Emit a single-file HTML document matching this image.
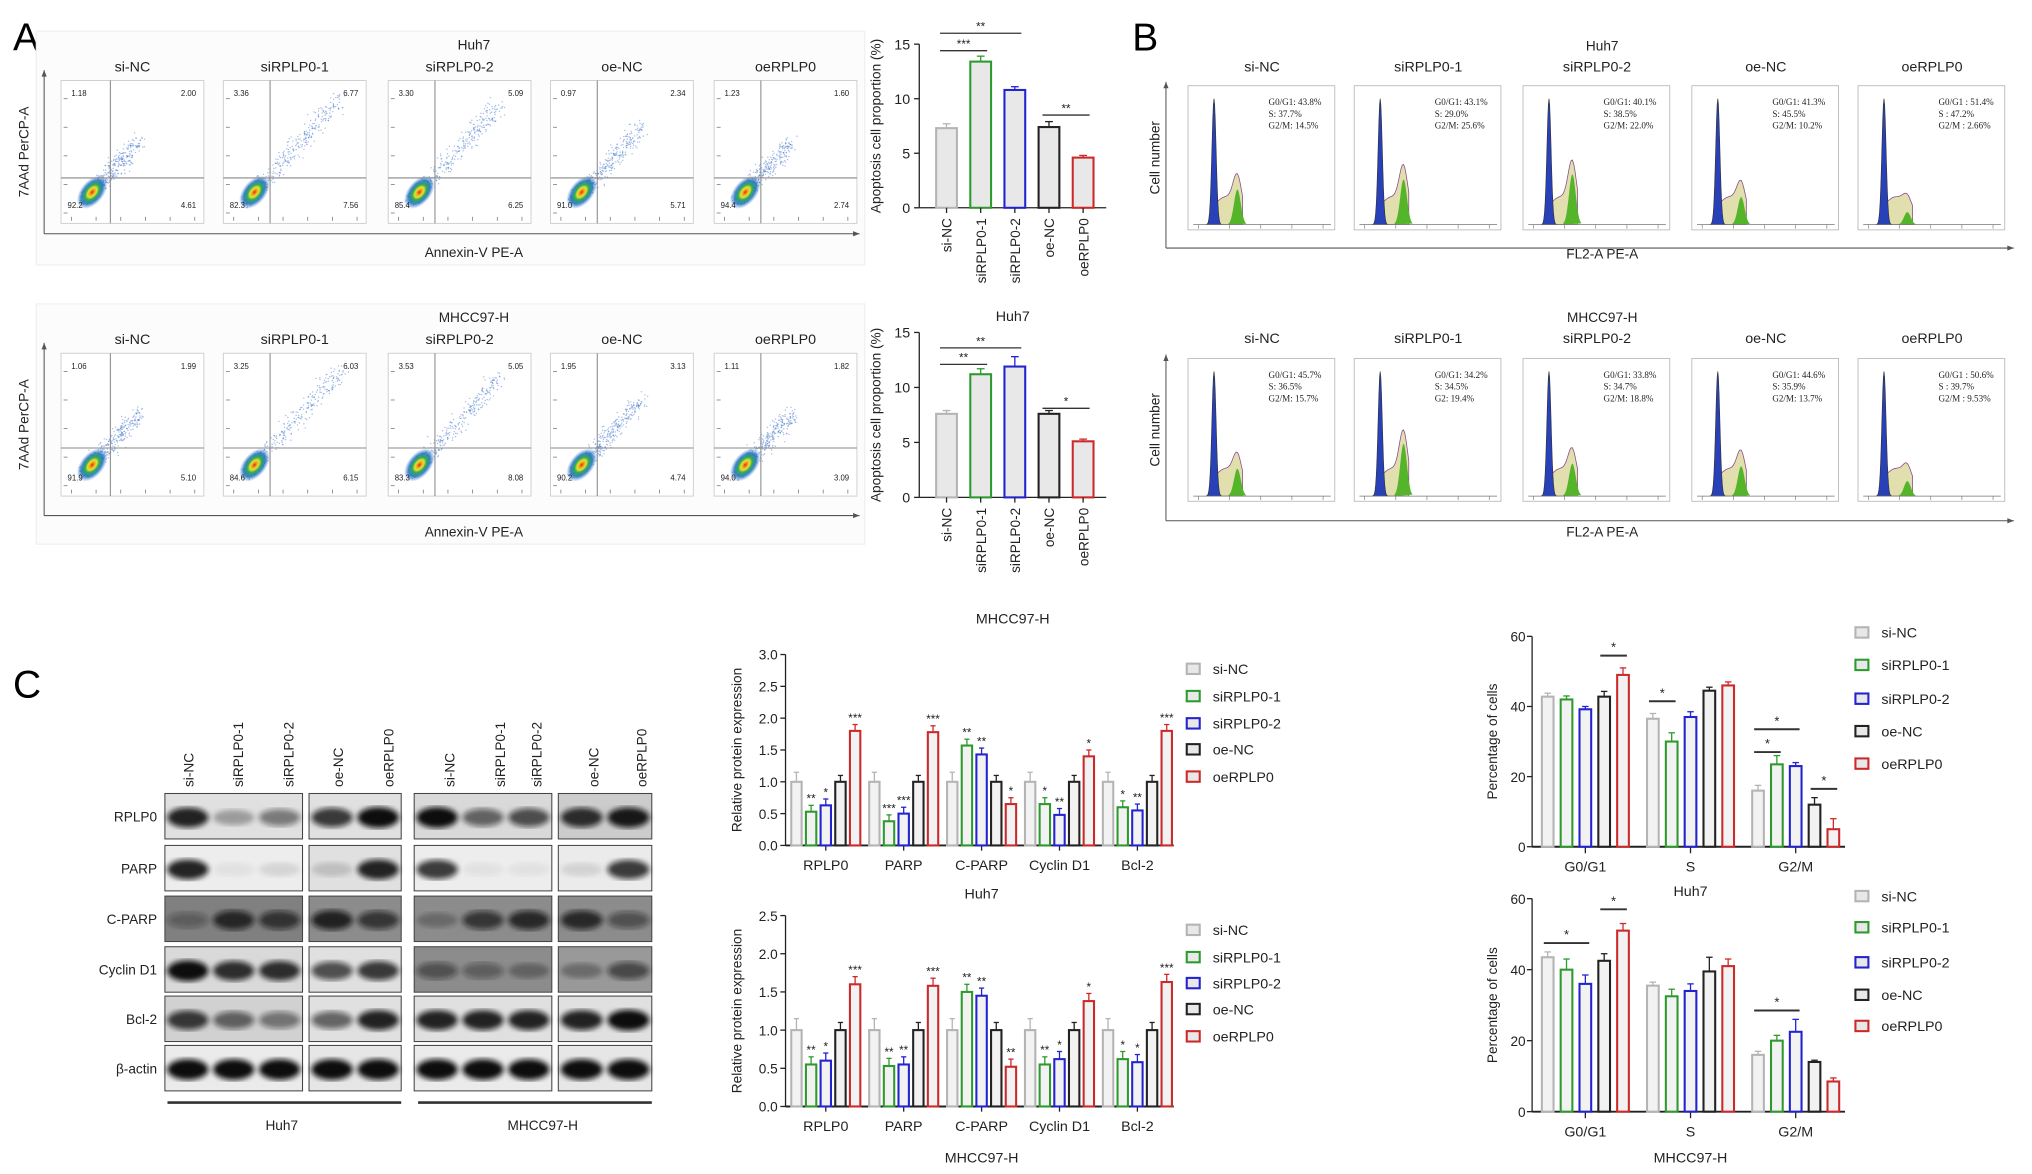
<!DOCTYPE html>
<html><head><meta charset="utf-8">
<style>
html,body{margin:0;padding:0;background:#fff;}
svg{display:block;font-family:"Liberation Sans",Arial,sans-serif;}
</style></head>
<body>
<svg id="fig" width="2032" height="1174" viewBox="0 0 1565 904" preserveAspectRatio="none" xmlns="http://www.w3.org/2000/svg">
<defs>
<radialGradient id="dens" cx="50%" cy="50%" r="50%">
<stop offset="0" stop-color="#e0201a"/><stop offset="0.15" stop-color="#f0a020"/><stop offset="0.3" stop-color="#e8e030"/><stop offset="0.45" stop-color="#30b050"/><stop offset="0.7" stop-color="#2070c0" stop-opacity="0.85"/><stop offset="1" stop-color="#4080d0" stop-opacity="0"/>
</radialGradient>
<filter id="blur2"><feGaussianBlur stdDeviation="2"/></filter>
<filter id="blur1"><feGaussianBlur stdDeviation="1.2"/></filter>
</defs>
</svg>
<script>
// ---------- DATA ----------
const groupLabels = ["si-NC","siRPLP0-1","siRPLP0-2","oe-NC","oeRPLP0"];
const colors = ["#b4b4b4","#2e9a2e","#2323d0","#222222","#cc2a2a"];
// Panel A flow quadrants [UL, UR, LL, LR]
const flowHuh7 = [["1.18","2.00","92.2","4.61"],["3.36","6.77","82.3","7.56"],["3.30","5.09","85.4","6.25"],["0.97","2.34","91.0","5.71"],["1.23","1.60","94.4","2.74"]];
const flowMhcc = [["1.06","1.99","91.9","5.10"],["3.25","6.03","84.6","6.15"],["3.53","5.05","83.3","8.08"],["1.95","3.13","90.2","4.74"],["1.11","1.82","94.0","3.09"]];
// Panel A apoptosis bars
const apoHuh7 = [7.3,13.4,10.8,7.4,4.6];
const apoHuh7Err = [0.4,0.5,0.3,0.5,0.2];
const apoMhcc = [7.6,11.2,11.9,7.6,5.1];
const apoMhccErr = [0.3,0.5,0.9,0.3,0.2];
const apoTicks = [0,5,10,15];
// Panel B stats
const cycHuh7Text = [["G0/G1: 43.8%","S: 37.7%","G2/M: 14.5%"],["G0/G1: 43.1%","S: 29.0%","G2/M: 25.6%"],["G0/G1: 40.1%","S: 38.5%","G2/M: 22.0%"],["G0/G1: 41.3%","S: 45.5%","G2/M: 10.2%"],["G0/G1 : 51.4%","S : 47.2%","G2/M : 2.66%"]];
const cycMhccText = [["G0/G1: 45.7%","S: 36.5%","G2/M: 15.7%"],["G0/G1: 34.2%","S: 34.5%","G2: 19.4%"],["G0/G1: 33.8%","S: 34.7%","G2/M: 18.8%"],["G0/G1: 44.6%","S: 35.9%","G2/M: 13.7%"],["G0/G1 : 50.6%","S : 39.7%","G2/M : 9.53%"]];
const greenPeakHuh7 = [0.28,0.36,0.40,0.22,0.10];
const greenPeakMhcc = [0.22,0.42,0.26,0.24,0.12];
// Panel C protein
const protCats = ["RPLP0","PARP","C-PARP","Cyclin D1","Bcl-2"];
const protHuh7SiNC = [1,1,1,1,1];
const protHuh7Si1 = [0.53,0.38,1.57,0.65,0.60];
const protHuh7Si2 = [0.63,0.50,1.43,0.48,0.55];
const protHuh7OeNC = [1,1,1,1,1];
const protHuh7Oe = [1.80,1.78,0.65,1.40,1.80];
const protHuh7Stars = [["","**","*","","***"],["","***","***","","***"],["","**","**","","*"],["","*","**","","*"],["","*","**","","***"]];
const protMhccSiNC = [1,1,1,1,1];
const protMhccSi1 = [0.55,0.53,1.50,0.55,0.62];
const protMhccSi2 = [0.60,0.55,1.45,0.62,0.58];
const protMhccOeNC = [1,1,1,1,1];
const protMhccOe = [1.60,1.58,0.52,1.38,1.63];
const protMhccStars = [["","**","*","","***"],["","**","**","","***"],["","**","**","","**"],["","**","*","","*"],["","*","*","","***"]];
const protHuh7Ticks = [0,0.5,1.0,1.5,2.0,2.5,3.0];
const protMhccTicks = [0,0.5,1.0,1.5,2.0,2.5];
// Panel C cell cycle
const phaseCats = ["G0/G1","S","G2/M"];
const cycHuh7Vals = [[42.8,42,39.2,42.8,49],[36.5,30,37,44.5,46],[16,23.5,23,12,5]];
const cycHuh7Err = [[1,1,0.8,1.5,2],[1.5,2.5,1.5,1,1],[1.5,2.5,1,2,3]];
const cycMhccVals = [[43.5,40,36,42.5,51],[35.5,32.5,34,39.5,41],[16,20,22.5,14,8.5]];
const cycMhccErr = [[1.5,3,2.5,2,2],[1,2,2,4,2],[1,1.5,3.5,0.5,1]];
const cycTicks = [0,20,40,60];

const svg = document.getElementById('fig');
const NS = "http://www.w3.org/2000/svg";
function mk(tag, attrs, parent, name){
  const e = document.createElementNS(NS, tag);
  for (const k in attrs) e.setAttribute(k, attrs[k]);
  if (name){
    
    
  }
  (parent||svg).appendChild(e);
  return e;
}
function txt(x,y,s,size,opts,parent,name){
  opts = opts||{};
  const a = {x:x,y:y,'font-size':size,fill:opts.fill||'#222','text-anchor':opts.anchor||'middle'};
  if (opts.rot!==undefined) a.transform = `rotate(${opts.rot} ${x} ${y})`;
  if (opts.family) a['font-family']=opts.family;
  if (opts.weight) a['font-weight']=opts.weight;
  const t = mk('text', a, parent, name);
  t.textContent = s;
  return t;
}
function arrowAxes(x0,yBottom,yTop,xRight,g){
  mk('line',{x1:x0,y1:yBottom,x2:x0,y2:yTop,stroke:'#555','stroke-width':0.8},g,'y-axis-arrow');
  mk('path',{d:`M${x0-2} ${yTop+5} L${x0} ${yTop} L${x0+2} ${yTop+5}Z`,fill:'#555'},g,'y-arrow-head');
  mk('line',{x1:x0,y1:yBottom,x2:xRight,y2:yBottom,stroke:'#555','stroke-width':0.8},g,'x-axis-arrow');
  mk('path',{d:`M${xRight-5} ${yBottom-2} L${xRight} ${yBottom} L${xRight-5} ${yBottom+2}Z`,fill:'#555'},g,'x-arrow-head');
}

// panel letters
txt(10,39,"A",30,{anchor:'start',fill:'#000'},null,'panel-label-a');
txt(872,39,"B",30,{anchor:'start',fill:'#000'},null,'panel-label-b');
txt(10,537,"C",30,{anchor:'start',fill:'#000'},null,'panel-label-c');

// ---------- PANEL A flow ----------
let seed = 12345;
function rnd(){ seed = (seed*16807)%2147483647; return seed/2147483647; }
function gauss(){ return (rnd()+rnd()+rnd()-1.5)/1.5; }
const flowBoxX = [47,172,299,424,550];
function flowRow(top, bottom, gateY, titleY, labelY, axisY, axisLabelY, title, quad, rowName){
  const g = mk('g',{},null,rowName);
  mk('rect',{x:28,y:titleY-14,width:638,height:axisLabelY-titleY+20,fill:'#fcfcfc',stroke:'#f0f0f0'},g,'flow-panel-bg');
  txt(365,titleY,title,10.5,{},g,'flow-title');
  arrowAxes(34,axisY,top-8,662,g);
  txt(22,(top+bottom)/2,"7AAd PerCP-A",10.5,{rot:-90},g,'flow-y-axis-title');
  txt(365,axisLabelY,"Annexin-V PE-A",10.5,{},g,'flow-x-axis-title');
  flowBoxX.forEach((bx,i)=>{
    const pg = mk('g',{},g,'flow-plot-'+groupLabels[i]);
    txt(bx+55,labelY,groupLabels[i],11,{},pg,'flow-plot-title');
    mk('rect',{x:bx,y:top,width:110,height:bottom-top,fill:'#fff',stroke:'#ccc','stroke-width':0.7},pg,'flow-plot-frame');
    const gx = bx + (i===0?38:36);
    const spread = [0.6,1.2,1.1,0.8,0.6][i];
    const cx0 = bx+24, cy0 = bottom-24;
    for (let k=0;k<700;k++){
      const r = rnd();
      let px, py;
      if (r<0.65){ const a=gauss()*14, b=gauss()*7; px = cx0+a*0.7+b*0.7; py = cy0-a*0.7+b*0.7; }
      else { const t=rnd(); px = cx0+6+t*50*spread+gauss()*10; py = cy0-6-t*55*spread+gauss()*10; }
      if (px<bx+2||px>bx+108||py<top+2||py>bottom-2) continue;
      mk('circle',{cx:px.toFixed(1),cy:py.toFixed(1),r:0.55,fill:'#3a6fc8','fill-opacity':0.45},pg,'flow-event');
    }
    mk('ellipse',{cx:cx0,cy:cy0,rx:15,ry:9,fill:'url(#dens)',transform:`rotate(-50 ${cx0} ${cy0})`},pg,'flow-density-core');
    mk('line',{x1:gx,y1:top,x2:gx,y2:bottom,stroke:'#888','stroke-width':0.8},pg,'vertical-gate');
    mk('line',{x1:bx,y1:gateY,x2:bx+110,y2:gateY,stroke:'#888','stroke-width':0.8},pg,'horizontal-gate');
    for (let t=0;t<6;t++) mk('line',{x1:bx+8+t*19,y1:bottom-2,x2:bx+8+t*19,y2:bottom-5,stroke:'#777','stroke-width':0.6},pg,'flow-x-tick');
    for (let t=0;t<5;t++) mk('line',{x1:bx+2,y1:bottom-8-t*22,x2:bx+5,y2:bottom-8-t*22,stroke:'#777','stroke-width':0.6},pg,'flow-y-tick');
    const q = quad[i];
    txt(bx+8,top+12,q[0],6,{anchor:'start'},pg,'quadrant-ul');
    txt(bx+104,top+12,q[1],6,{anchor:'end'},pg,'quadrant-ur');
    txt(bx+5,bottom-12,q[2],6,{anchor:'start'},pg,'quadrant-ll');
    txt(bx+104,bottom-12,q[3],6,{anchor:'end'},pg,'quadrant-lr');
  });
}
flowRow(62,172,137,38,55,180,198,"Huh7",flowHuh7,'flow-huh7');
flowRow(272,382,345,248,265,397,413,"MHCC97-H",flowMhcc,'flow-mhcc97h');

// ---------- PANEL A bars ----------
function apoChart(y0,yTop,vals,errs,sigs,caption,capY,name){
  const g = mk('g',{},null,name);
  const ax = 708, maxV = 15;
  const yS = v => y0 - v/maxV*(y0-yTop);
  const xS = i => 729 + i*26.3;
  mk('line',{x1:ax,y1:y0,x2:ax,y2:yTop,stroke:'#222','stroke-width':1},g,'y-axis');
  mk('line',{x1:ax,y1:y0,x2:852,y2:y0,stroke:'#222','stroke-width':1},g,'x-axis');
  apoTicks.forEach(t=>{
    mk('line',{x1:ax-4,y1:yS(t),x2:ax,y2:yS(t),stroke:'#222'},g,'y-tick');
    txt(ax-7,yS(t)+4,String(t),11,{anchor:'end'},g,'y-tick-label');
  });
  txt(678,(y0+yTop)/2,"Apoptosis cell proportion (%)",10.5,{rot:-90},g,'y-axis-title');
  vals.forEach((v,i)=>{
    const cx = xS(i);
    mk('rect',{x:cx-8,y:yS(v),width:16,height:y0-yS(v),fill:'#e8e8e8',stroke:colors[i],'stroke-width':1.6},g,'bar-'+groupLabels[i]);
    mk('line',{x1:cx,y1:yS(v),x2:cx,y2:yS(v+errs[i]),stroke:colors[i]},g,'error-bar');
    mk('line',{x1:cx-3,y1:yS(v+errs[i]),x2:cx+3,y2:yS(v+errs[i]),stroke:colors[i]},g,'error-cap');
    mk('line',{x1:cx,y1:y0,x2:cx,y2:y0+4,stroke:'#222'},g,'x-tick');
    txt(cx+4,y0+8,groupLabels[i],10.5,{rot:-90,anchor:'end'},g,'x-tick-label');
  });
  sigs.forEach(s=>{
    const x1 = xS(s[0])-5, x2 = xS(s[1])+5, yy = yS(s[2]);
    mk('line',{x1:x1,y1:yy,x2:x2,y2:yy,stroke:'#333','stroke-width':1},g,'significance-line');
    txt((x1+x2)/2,yy-2,s[3],9,{},g,'significance-stars');
  });
  txt(780,capY,caption,11,{},g,'x-axis-title');
}
apoChart(160,34,apoHuh7,apoHuh7Err,[[0,2,16,"**"],[0,1,14.4,"***"],[3,4,8.5,"**"]],"Huh7",247,'apoptosis-chart-huh7');
apoChart(383,256,apoMhcc,apoMhccErr,[[0,2,13.6,"**"],[0,1,12.1,"**"],[3,4,8.1,"*"]],"MHCC97-H",480,'apoptosis-chart-mhcc97h');

// ---------- PANEL B ----------
const histBoxX = [915,1043,1173,1303,1431];
function gaussF(x,m,s){ return Math.exp(-0.5*((x-m)/s)**2); }
function histRow(top,bottom,titleY,labelY,axisY,axisLabelY,title,texts,greens,name){
  const g = mk('g',{},null,name);
  txt(1234,titleY,title,10.5,{},g,'histogram-row-title');
  arrowAxes(898,axisY,top-3,1551,g);
  txt(893,(top+bottom)/2,"Cell number",10.5,{rot:-90},g,'y-axis-title');
  txt(1234,axisLabelY,"FL2-A PE-A",10.5,{},g,'x-axis-title');
  histBoxX.forEach((bx,i)=>{
    const pg = mk('g',{},g,'histogram-'+groupLabels[i]);
    txt(bx+57,labelY,groupLabels[i],11,{},pg,'histogram-title');
    mk('rect',{x:bx,y:top,width:113,height:bottom-top,fill:'#fff',stroke:'#bbb','stroke-width':0.7},pg,'histogram-frame');
    const base = bottom-4, H = bottom-top-14;
    const p1 = bx+20, p2 = bx+38, gh = greens[i];
    let dS = `M${p1} ${base}`;
    for (let x=p1;x<=p2+4;x+=1){ const y = base - H*(0.17*gaussF(x,(p1+p2)/2,9)+gh*gaussF(x,p2,3.2)*0.9+0.05); dS+=` L${x} ${y.toFixed(1)}`; }
    dS += ` L${p2+4} ${base}Z`;
    mk('path',{d:dS,fill:'#e2dfae',stroke:'#8a4b8a','stroke-width':0.6},pg,'s-phase-area');
    let dG = `M${p2-7} ${base}`;
    for (let x=p2-7;x<=p2+7;x+=0.5){ dG+=` L${x} ${(base-H*gh*gaussF(x,p2,2.6)).toFixed(1)}`; }
    dG+=' Z';
    mk('path',{d:dG,fill:'#55b52a'},pg,'g2m-peak');
    let dB = `M${p1-6} ${base}`;
    for (let x=p1-6;x<=p1+6;x+=0.5){ dB+=` L${x} ${(base-H*gaussF(x,p1,1.6)).toFixed(1)}`; }
    dB+=' Z';
    mk('path',{d:dB,fill:'#2840b8',stroke:'#333','stroke-width':0.5},pg,'g0g1-peak');
    mk('line',{x1:bx+4,y1:base,x2:bx+110,y2:base,stroke:'#777','stroke-width':0.6},pg,'histogram-baseline');
    for (let t=0;t<5;t++) mk('line',{x1:bx+8+t*24,y1:base,x2:bx+8+t*24,y2:base+3,stroke:'#777','stroke-width':0.5},pg,'histogram-x-tick');
    texts[i].forEach((s,k)=>txt(bx+62,top+15+k*9,s,7,{anchor:'start',family:'"Liberation Serif",serif'},pg,'phase-stat'));
  });
}
histRow(66,177,39,55,191,199,"Huh7",cycHuh7Text,greenPeakHuh7,'histograms-huh7');
histRow(276,386,248,264,401,413,"MHCC97-H",cycMhccText,greenPeakMhcc,'histograms-mhcc97h');

// ---------- PANEL C blots ----------
const blotRows = ["RPLP0","PARP","C-PARP","Cyclin D1","Bcl-2","β-actin"];
const blotRowY = [611,651,690,729,767,805];
const blotBoxes = [[127,233],[238,309],[319,425],[430,502]];
const laneX = [145,183,222,260,299,346,385,413,457,494];
const laneBox = [0,0,0,1,1,2,2,2,3,3];
const laneIdx = [0,1,2,0,1,0,1,2,0,1];
const bandIntensity = [
 [0.9,0.3,0.5,0.8,1, 1,0.6,0.7,0.85,0.95],
 [0.9,0.05,0.1,0.15,0.9, 0.8,0.05,0.05,0.1,0.8],
 [0.35,0.8,0.7,0.85,0.7, 0.25,0.7,0.8,0.8,0.5],
 [1,0.85,0.85,0.7,0.8, 0.5,0.4,0.3,0.3,0.6],
 [0.8,0.6,0.5,0.6,0.9, 0.9,0.9,0.9,0.9,1],
 [1,1,1,1,1, 1,1,1,1,1]];
const blotBg = [[0.88,0.88,0.85,0.8],[0.93,0.88,0.93,0.92],[0.5,0.55,0.55,0.55],[0.85,0.88,0.55,0.6],[0.82,0.88,0.88,0.88],[0.92,0.9,0.92,0.9]];
const gB = mk('g',{},null,'western-blot');
const laneNames = groupLabels.concat(groupLabels);
laneX.forEach((x,i)=>txt(x+4,606,laneNames[i],10.5,{rot:-90,anchor:'start'},gB,'lane-label'));
blotRows.forEach((r,ri)=>{
  const y = blotRowY[ri], h = 35;
  txt(121,y+h/2+4,r,10.5,{anchor:'end'},gB,'blot-row-label');
  blotBoxes.forEach((b,bi)=>{
    const v = Math.round(255*blotBg[ri][bi]);
    mk('rect',{x:b[0],y:y,width:b[1]-b[0],height:h,fill:`rgb(${v},${v},${v})`,stroke:'#444','stroke-width':0.8},gB,'blot-strip');
  });
  laneX.forEach((x,li)=>{
    const a = bandIntensity[ri][li];
    const b = blotBoxes[laneBox[li]];
    const n = (laneBox[li]%2===0)?3:2;
    const lw = (b[1]-b[0])/n;
    const cx = b[0] + lw*(laneIdx[li]+0.5);
    mk('ellipse',{cx:cx,cy:y+h/2+1,rx:lw*0.45,ry:5+3*a,fill:'#111','fill-opacity':a,filter:'url(#blur2)'},gB,'blot-band');
  });
});
mk('line',{x1:129,y1:849,x2:309,y2:849,stroke:'#333','stroke-width':2},gB,'huh7-underline');
mk('line',{x1:322,y1:849,x2:502,y2:849,stroke:'#333','stroke-width':2},gB,'mhcc-underline');
txt(217,870,"Huh7",10.5,{},gB,'blot-huh7-label');
txt(418,870,"MHCC97-H",10.5,{},gB,'blot-mhcc-label');

// ---------- PANEL C grouped bar charts ----------
function legend(x,ys,g){
  groupLabels.forEach((l,i)=>{
    mk('rect',{x:x,y:ys[i]-4,width:10,height:8,fill:'#e8e8e8',stroke:colors[i],'stroke-width':1.6},g,'legend-swatch-'+l);
    txt(x+20,ys[i]+4,l,11,{anchor:'start'},g,'legend-label-'+l);
  });
}
function protChart(y0,yTop,maxV,ticks,series,stars,caption,capY,legY,name){
  const g = mk('g',{},null,name);
  const ax = 605;
  const yS = v => y0 - v/maxV*(y0-yTop);
  const xG = c => 636 + c*60;
  mk('line',{x1:ax,y1:y0,x2:ax,y2:yTop,stroke:'#222','stroke-width':1},g,'y-axis');
  mk('line',{x1:ax,y1:y0,x2:904,y2:y0,stroke:'#222','stroke-width':1.5},g,'x-axis');
  ticks.forEach(t=>{
    mk('line',{x1:ax-4,y1:yS(t),x2:ax,y2:yS(t),stroke:'#222'},g,'y-tick');
    txt(ax-6,yS(t)+4,t.toFixed(1),10.5,{anchor:'end'},g,'y-tick-label');
  });
  txt(571,(y0+yTop)/2,"Relative protein expression",10.5,{rot:-90},g,'y-axis-title');
  protCats.forEach((c,ci)=>{
    mk('line',{x1:xG(ci),y1:y0,x2:xG(ci),y2:y0+4,stroke:'#222'},g,'x-tick');
    txt(xG(ci),y0+19,c,11,{},g,'x-tick-label');
    series.forEach((s,si)=>{
      const v = s[ci], cx = xG(ci)+(si-2)*11.3;
      const e = si===0?0.15:0.1;
      mk('line',{x1:cx,y1:yS(v),x2:cx,y2:yS(v+e),stroke:colors[si]},g,'error-bar');
      mk('line',{x1:cx-2,y1:yS(v+e),x2:cx+2,y2:yS(v+e),stroke:colors[si]},g,'error-cap');
      mk('rect',{x:cx-4,y:yS(v),width:8,height:y0-yS(v),fill:'#f2f2f2',stroke:colors[si],'stroke-width':1.6},g,'bar-'+c+'-'+groupLabels[si]);
      const st = stars[ci][si];
      if (st) txt(cx,yS(v+e)-2,st,9,{},g,'significance-stars');
    });
  });
  txt(756,capY,caption,11,{},g,'x-axis-title');
  legend(914,legY,g);
}
protChart(651,504,3,protHuh7Ticks,[protHuh7SiNC,protHuh7Si1,protHuh7Si2,protHuh7OeNC,protHuh7Oe],protHuh7Stars,"Huh7",692,[515,536,557,577,598],'protein-chart-huh7');
protChart(852,705,2.5,protMhccTicks,[protMhccSiNC,protMhccSi1,protMhccSi2,protMhccOeNC,protMhccOe],protMhccStars,"MHCC97-H",895,[716,737,757,777,798],'protein-chart-mhcc97h');

function cycChart(y0,yTop,vals,errs,sigs,caption,capY,legY,name){
  const g = mk('g',{},null,name);
  const ax = 1180, maxV = 60;
  const yS = v => y0 - v/maxV*(y0-yTop);
  const xG = c => 1221 + c*81;
  mk('line',{x1:ax,y1:y0,x2:ax,y2:yTop,stroke:'#222','stroke-width':1},g,'y-axis');
  mk('line',{x1:ax,y1:y0,x2:1421,y2:y0,stroke:'#222','stroke-width':1.5},g,'x-axis');
  cycTicks.forEach(t=>{
    mk('line',{x1:ax-4,y1:yS(t),x2:ax,y2:yS(t),stroke:'#222'},g,'y-tick');
    txt(ax-5,yS(t)+4,String(t),10.5,{anchor:'end'},g,'y-tick-label');
  });
  txt(1153,(y0+yTop)/2,"Percentage of cells",10.5,{rot:-90},g,'y-axis-title');
  const bx = (ci,si) => xG(ci)+(si-2)*14.5;
  phaseCats.forEach((c,ci)=>{
    mk('line',{x1:xG(ci),y1:y0,x2:xG(ci),y2:y0+5,stroke:'#222'},g,'x-tick');
    txt(xG(ci),y0+19,c,11,{},g,'x-tick-label');
    vals[ci].forEach((v,si)=>{
      const cx = bx(ci,si), e = errs[ci][si];
      mk('line',{x1:cx,y1:yS(v),x2:cx,y2:yS(v+e),stroke:colors[si]},g,'error-bar');
      mk('line',{x1:cx-2.5,y1:yS(v+e),x2:cx+2.5,y2:yS(v+e),stroke:colors[si]},g,'error-cap');
      mk('rect',{x:cx-4.5,y:yS(v),width:9,height:y0-yS(v),fill:'#f2f2f2',stroke:colors[si],'stroke-width':1.6},g,'bar-'+c+'-'+groupLabels[si]);
    });
  });
  sigs.forEach(s=>{
    const x1 = bx(s[0],s[1])-3, x2 = bx(s[0],s[2])+3, yy = yS(s[3]);
    mk('line',{x1:x1,y1:yy,x2:x2,y2:yy,stroke:'#333','stroke-width':1.5},g,'significance-line');
    txt((x1+x2)/2,yy-3,"*",10,{},g,'significance-stars');
  });
  txt(1302,capY,caption,11,{},g,'x-axis-title');
  legend(1429,legY,g);
}
cycChart(652,490,cycHuh7Vals,cycHuh7Err,[[0,3,4,54.5],[1,0,1,41.5],[2,0,2,33.5],[2,0,1,27],[2,3,4,16.5]],"Huh7",690,[487,512,538,563,588],'cell-cycle-chart-huh7');
cycChart(856,692,cycMhccVals,cycMhccErr,[[0,0,2,47.5],[0,3,4,57],[2,0,2,28.5]],"MHCC97-H",895,[690,714,741,766,790],'cell-cycle-chart-mhcc97h');
</script>
</body></html>
